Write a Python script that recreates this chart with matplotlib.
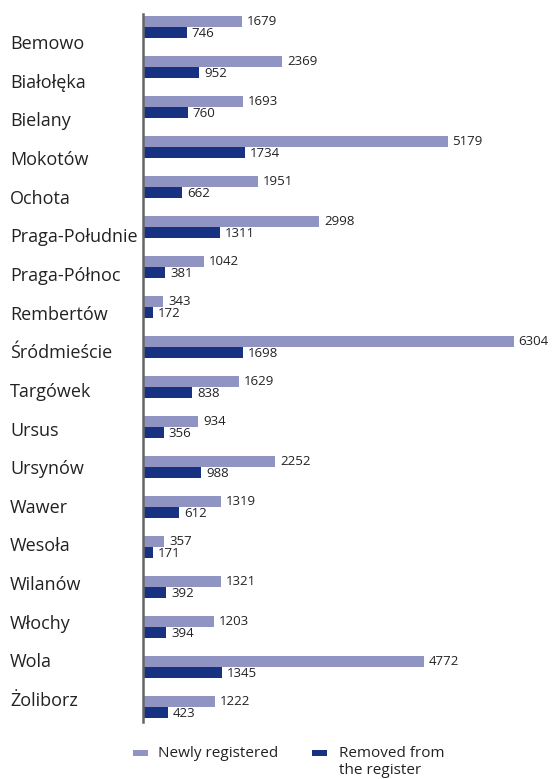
import matplotlib
matplotlib.use("Agg")
import matplotlib.pyplot as plt
from matplotlib.patches import Rectangle
import numpy as np

plt.rcParams['font.family'] = ['Open Sans', 'DejaVu Sans']

districts = ["Bemowo", "Białołęka", "Bielany", "Mokotów", "Ochota", "Praga-Południe",
             "Praga-Północ", "Rembertów", "Śródmieście", "Targówek", "Ursus", "Ursynów",
             "Wawer", "Wesoła", "Wilanów", "Włochy", "Wola", "Żoliborz"]
newly_registered = [1679, 2369, 1693, 5179, 1951, 2998, 1042, 343, 6304, 1629, 934, 2252,
                    1319, 357, 1321, 1203, 4772, 1222]
removed = [746, 952, 760, 1734, 662, 1311, 381, 172, 1698, 838, 356, 988,
           612, 171, 392, 394, 1345, 423]
series_labels = ["Newly registered", "Removed from\nthe register"]

light = "#8f94c3"
dark = "#173283"
txt = "#222222"

W, H = 555, 779
fig = plt.figure(figsize=(W / 100, H / 100), dpi=100)
ax_left, ax_top, ax_bottom, ax_right = 143, 14, 722, 555
ax = fig.add_axes([ax_left / W, 1 - ax_bottom / H, (ax_right - ax_left) / W, (ax_bottom - ax_top) / H])

n = len(districts)
y = np.arange(n)
bh = 0.275
ax.barh(y - bh / 2, newly_registered, height=bh, color=light)
ax.barh(y + bh / 2, removed, height=bh, color=dark)

ax.set_xlim(0, 412 / 0.0588)
ax.set_ylim(17.375, -0.325)

for i in range(n):
    ax.annotate(str(newly_registered[i]), (newly_registered[i], y[i] - bh / 2), xytext=(3.6, 0.2),
                textcoords="offset points", va="center", ha="left", fontsize=9.5, color=txt,
                annotation_clip=False)
    ax.annotate(str(removed[i]), (removed[i], y[i] + bh / 2), xytext=(3.6, -1.0),
                textcoords="offset points", va="center", ha="left", fontsize=9.5, color=txt,
                annotation_clip=False)

# category labels (offset from the bar groups as in the reference)
for i, name in enumerate(districts):
    pix = 44 + 38.65 * i
    fig.text(10 / W, 1 - pix / H, name, ha="left", va="center", fontsize=13, color=txt)

ax.set_yticks([])
ax.set_xticks([])
for s in ["top", "right", "bottom"]:
    ax.spines[s].set_visible(False)
ax.spines["left"].set_color("#666666")
ax.spines["left"].set_linewidth(1.8)

# legend (manual)
def fx(p):
    return p / W

def fy(p):
    return 1 - p / H

for (hx, tx), col, lab in zip([(133, 158), (312, 339)], [light, dark], series_labels):
    fig.patches.append(Rectangle((fx(hx), fy(756)), 15 / W, 6.5 / H, transform=fig.transFigure,
                                 facecolor=col, edgecolor="none"))
    fig.text(fx(tx), fy(746), lab, ha="left", va="top", fontsize=11, color=txt,
             linespacing=1.15)

fig.savefig("out.png", dpi=100)
